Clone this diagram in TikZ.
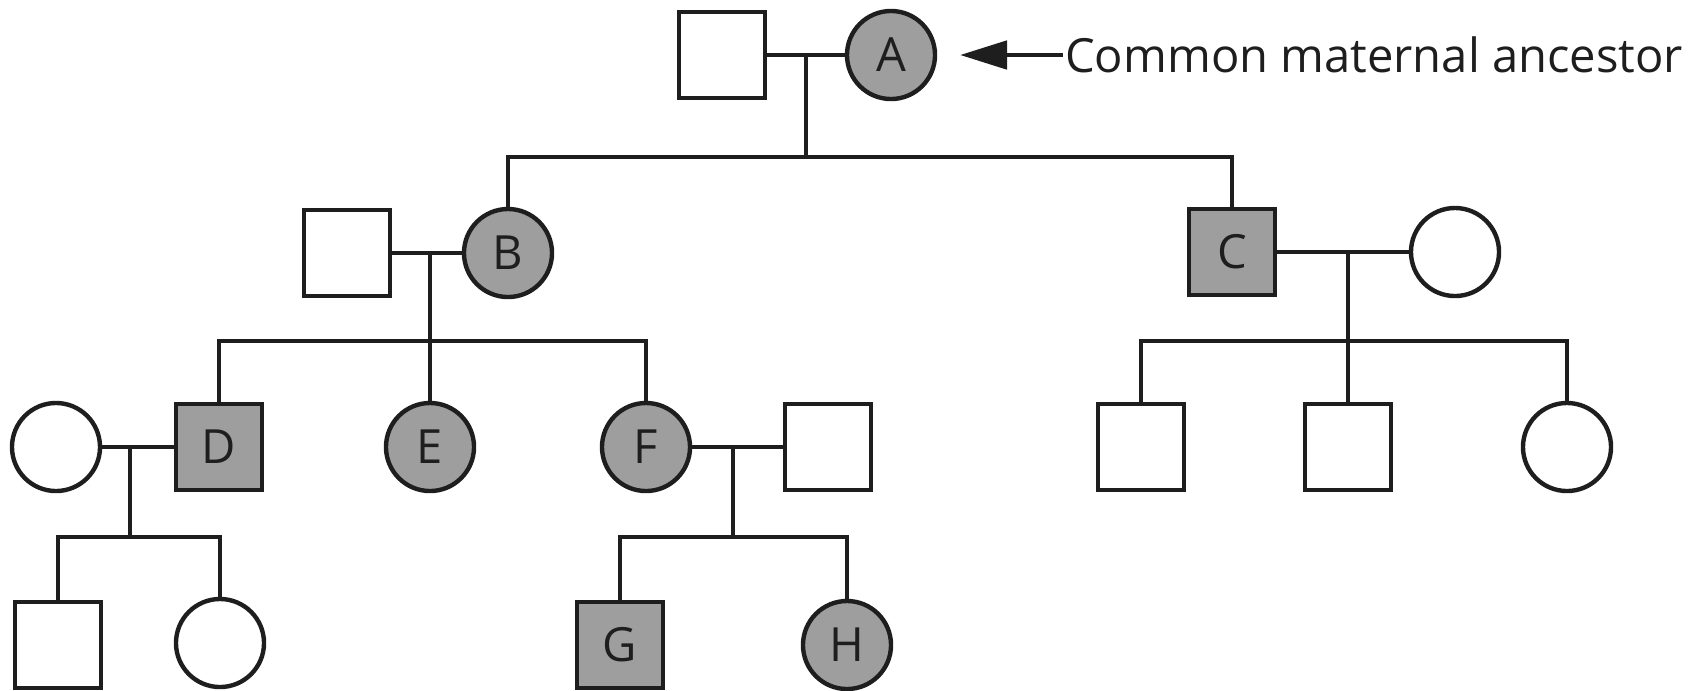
\documentclass[tikz,border=0pt]{standalone}
\usepackage{fontspec}
\setmainfont{Open Sans}
\usetikzlibrary{arrows.meta}
\definecolor{affected}{RGB}{158,158,158}
\definecolor{ink}{RGB}{30,30,30}
\begin{document}
\begin{tikzpicture}[x=0.01cm,y=-0.01cm,
  line width=1.25pt, draw=ink,
  every node/.style={font=\fontsize{13.4}{16}\selectfont, text=ink},
  male/.style={draw=ink, rectangle, minimum size=0.86cm, inner sep=0pt, fill=white},
  female/.style={draw=ink, circle, minimum size=0.88cm, inner sep=0pt, fill=white},
  hit/.style={fill=affected},
  link/.style={draw=ink, line width=1.25pt}]
\useasboundingbox (0,0) rectangle (1700,690);

% generation I
\node[male] (am) at (722,55) {};
\node[female,hit] (a) at (891,55) {A};
\node[anchor=west, inner sep=0pt] (lbl) at (1063,55) {Common maternal ancestor};
\coordinate (tip) at (960,55);
\draw[link, line width=1.4pt, -{Triangle[length=4.7mm,width=2.8mm]}] (lbl.west) -- (tip);

% generation II
\node[male] (bm) at (347,253) {};
\node[female,hit] (b) at (508,253) {B};
\node[male,hit] (c) at (1232,252) {C};
\node[female] (cm) at (1455,252) {};

% generation III
\node[female] (dm) at (56,447) {};
\node[male,hit] (d) at (219,447) {D};
\node[female,hit] (e) at (430,447) {E};
\node[female,hit] (f) at (646,447) {F};
\node[male] (fm) at (828,447) {};
\node[male] (c1) at (1141,447) {};
\node[male] (c2) at (1348,447) {};
\node[female] (c3) at (1567,447) {};

% generation IV
\node[male] (d1) at (58,645) {};
\node[female] (d2) at (220,643) {};
\node[male,hit] (g) at (620,645) {G};
\node[female,hit] (h) at (847,645) {H};

% marriage points and sibship bars
\coordinate (uA) at (806,55);  \coordinate (sA) at (806,157);
\coordinate (uB) at (430,253); \coordinate (sB) at (430,341);
\coordinate (uC) at (1348,252);\coordinate (sC) at (1348,341);
\coordinate (uD) at (130,447); \coordinate (sD) at (130,537);
\coordinate (uF) at (733,447); \coordinate (sF) at (733,537);

% couples
\draw[link] (am) -- (a);
\draw[link] (bm) -- (b);
\draw[link] (c) -- (cm);
\draw[link] (dm) -- (d);
\draw[link] (f) -- (fm);

% descent lines
\draw[link] (uA) -- (sA);
\draw[link] (b) |- (sA) -| (c);
\draw[link] (uB) -- (sB);
\draw[link] (d) |- (sB) -| (f);
\draw[link] (sB) -- (e);
\draw[link] (uC) -- (sC);
\draw[link] (c1) |- (sC) -| (c3);
\draw[link] (sC) -- (c2);
\draw[link] (uD) -- (sD);
\draw[link] (d1) |- (sD) -| (d2);
\draw[link] (uF) -- (sF);
\draw[link] (g) |- (sF) -| (h);
\end{tikzpicture}
\end{document}
